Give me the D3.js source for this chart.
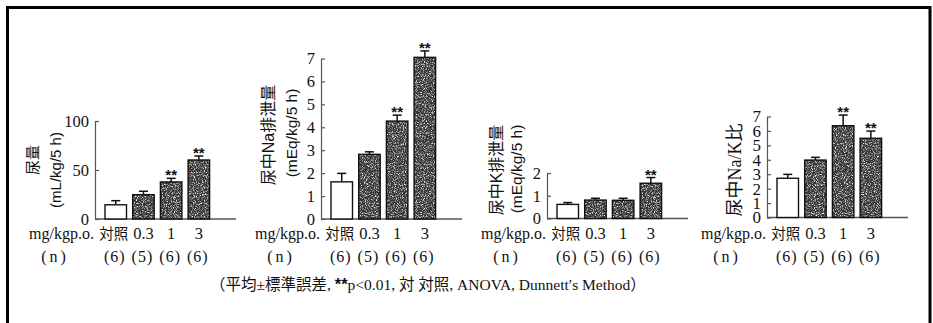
<!DOCTYPE html>
<html><head><meta charset="utf-8">
<script src="https://cdn.jsdelivr.net/npm/d3@7"></script>
<style>
html,body{margin:0;padding:0;background:#fff;}
svg{display:block;}
text{fill:#111;}
</style></head>
<body>
<svg id="chart" width="933" height="323"></svg>
<script>
// ---- data ----
const categories = ["対照", "0.3", "1", "3"];
const nLabels = ["(6)", "(5)", "(6)", "(6)"];
const doseUnit = "mg/kgp.o.";
const nTitle = "(n)";

const urineVolume   = [14.5, 24.8, 37.8, 60.2];
const urineVolumeSE = [4.2, 3.5, 3.7, 4.1];
const naExcretion   = [1.62, 2.82, 4.27, 7.05];
const naExcretionSE = [0.37, 0.11, 0.26, 0.28];
const kExcretion    = [0.62, 0.81, 0.80, 1.55];
const kExcretionSE  = [0.08, 0.08, 0.09, 0.25];
const naKRatio      = [2.72, 3.98, 6.36, 5.49];
const naKRatioSE    = [0.27, 0.19, 0.74, 0.50];

const sigUrine = [false, false, true, true];
const sigNa    = [false, false, true, true];
const sigK     = [false, false, false, true];
const sigNaK   = [false, false, true, true];

const ticksUrine = [0, 50, 100];
const ticksNa    = [0, 1, 2, 3, 4, 5, 6, 7];
const ticksK     = [0, 1, 2];
const ticksNaK   = [0, 1, 2, 3, 4, 5, 6, 7];

const footnote = ["（平均±標準誤差, ", "**", "p<0.01, 対 対照, ANOVA, Dunnett′s  Method）"];

// ---- layout ----
const panels = [
  {vals: urineVolume, se: urineVolumeSE, sig: sigUrine, ticks: ticksUrine, max: 100,
   x0: 95, yTop: 121, yBot: 219, tickFont: 16.5,
   labels: [{t: "尿量", x: 33, y: 160, size: 15}, {t: "(mL/kg/5 h)", x: 55, y: 170, size: 15, sans: true}]},
  {vals: naExcretion, se: naExcretionSE, sig: sigNa, ticks: ticksNa, max: 7,
   x0: 321, yTop: 58.5, yBot: 219, tickFont: 16.5,
   labels: [{t: "尿中Na排泄量", x: 268, y: 135, size: 16, sans: true}, {t: "(mEq/kg/5 h)", x: 291, y: 133, size: 15.5, sans: true}]},
  {vals: kExcretion, se: kExcretionSE, sig: sigK, ticks: ticksK, max: 2,
   x0: 547, yTop: 173, yBot: 218.5, tickFont: 16.5,
   labels: [{t: "尿中K排泄量", x: 496, y: 170, size: 16, sans: true}, {t: "(mEq/kg/5 h)", x: 516, y: 169, size: 15.5, sans: true}]},
  {vals: naKRatio, se: naKRatioSE, sig: sigNaK, ticks: ticksNaK, max: 7,
   x0: 767, yTop: 116.5, yBot: 217.5, tickFont: 17,
   labels: [{t: "尿中Na/K比", x: 735, y: 170, size: 18}]}
];

const svg = d3.select("#chart");
const SERIF = "'Liberation Serif','Times New Roman','Noto Sans CJK JP',serif";
const SANS = "'Liberation Sans',Arial,'Noto Sans CJK JP',sans-serif";

// texture
const defs = svg.append("defs");
const filt = defs.append("filter").attr("id", "grain").attr("x", 0).attr("y", 0).attr("width", "100%").attr("height", "100%");
filt.append("feTurbulence").attr("type", "fractalNoise").attr("baseFrequency", 0.9).attr("numOctaves", 2).attr("seed", 7).attr("result", "n");
filt.append("feColorMatrix").attr("in", "n").attr("type", "matrix")
  .attr("values", "0 0 0 0 1  0 0 0 0 1  0 0 0 0 1  3.0 0 0 0 -1.4");
const pat = defs.append("pattern").attr("id", "speck").attr("patternUnits", "userSpaceOnUse")
  .attr("width", 120).attr("height", 120);
pat.append("rect").attr("width", 120).attr("height", 120).attr("fill", "#363636");
pat.append("rect").attr("width", 120).attr("height", 120).attr("filter", "url(#grain)");

// frame
svg.append("path").attr("d", "M7.5,330 V7.5 H930 V330")
  .attr("fill", "none").attr("stroke", "#000").attr("stroke-width", 3);

panels.forEach(p => {
  const g = svg.append("g");
  const y = d3.scaleLinear().domain([0, p.max]).range([p.yBot, p.yTop]);
  const step = 27.7, pi = 0.224;
  const x = d3.scaleBand().domain(categories)
    .range([p.x0 + 10 - step * pi / 2, p.x0 + 10 - step * pi / 2 + 4 * step])
    .paddingInner(pi).paddingOuter(pi / 2);

  // baseline
  g.append("line").attr("x1", p.x0).attr("x2", p.x0 + 141).attr("y1", y(0)).attr("y2", y(0))
    .attr("stroke", "#555").attr("stroke-width", 1.3);

  // y axis
  const ax = g.append("g").attr("transform", `translate(${p.x0},0)`)
    .call(d3.axisLeft(y).tickValues(p.ticks).tickSizeInner(-4).tickSizeOuter(0).tickPadding(6).tickFormat(d3.format("d")));
  ax.select(".domain").attr("stroke", "#555").attr("stroke-width", 1.2);
  ax.selectAll(".tick line").attr("stroke", "#555").attr("stroke-width", 1.2);
  ax.selectAll(".tick text").attr("font-family", SERIF).attr("font-size", p.tickFont).attr("fill", "#111");

  // error bars
  p.vals.forEach((v, i) => {
    const cx = x(categories[i]) + x.bandwidth() / 2;
    const yt = y(v + p.se[i]);
    g.append("line").attr("x1", cx).attr("x2", cx).attr("y1", y(v)).attr("y2", yt).attr("stroke", "#111").attr("stroke-width", 1.5);
    g.append("line").attr("x1", cx - 4.5).attr("x2", cx + 4.5).attr("y1", yt).attr("y2", yt).attr("stroke", "#111").attr("stroke-width", 1.5);
    if (p.sig[i]) {
      g.append("text").attr("x", cx).attr("y", yt - 6 + 8).attr("text-anchor", "middle")
        .attr("font-family", SANS).attr("font-size", 15).attr("font-weight", "bold").text("**");
    }
  });

  // bars
  g.selectAll("rect.bar").data(p.vals).enter().append("rect").attr("class", "bar")
    .attr("x", (d, i) => x(categories[i]))
    .attr("width", x.bandwidth())
    .attr("y", d => y(d))
    .attr("height", d => y(0) - y(d))
    .attr("fill", (d, i) => i === 0 ? "#fff" : "url(#speck)")
    .attr("stroke", "#111").attr("stroke-width", 1.4);

  // y labels
  p.labels.forEach(l => {
    g.append("text").attr("transform", `translate(${l.x},${l.y}) rotate(-90)`)
      .attr("text-anchor", "middle").attr("dominant-baseline", "central")
      .attr("font-family", l.sans ? SANS : SERIF).attr("font-size", l.size).text(l.t);
  });

  // x rows
  g.append("text").attr("x", p.x0 - 1).attr("y", 239).attr("text-anchor", "end")
    .attr("font-family", SERIF).attr("font-size", 16).text(doseUnit);
  g.append("text").attr("x", p.x0 - 40).attr("y", 262).attr("text-anchor", "middle")
    .attr("font-family", SERIF).attr("font-size", 16).attr("letter-spacing", 3).text(nTitle);
  categories.forEach((c, i) => {
    const cx = x(c) + x.bandwidth() / 2;
    g.append("text").attr("x", cx - (i === 0 ? 2 : 0)).attr("y", 239).attr("text-anchor", "middle")
      .attr("font-family", SERIF).attr("font-size", i === 0 ? 14.5 : 16.5).text(c);
    g.append("text").attr("x", cx - 1).attr("y", 262).attr("text-anchor", "middle")
      .attr("font-family", SERIF).attr("font-size", 16).attr("letter-spacing", 1).text(nLabels[i]);
  });
});

// footnote
const fn = svg.append("text").attr("x", 210).attr("y", 290)
  .attr("font-family", SERIF).attr("font-size", 15.5);
fn.append("tspan").text(footnote[0]);
fn.append("tspan").attr("font-family", SANS).attr("font-weight", "bold").attr("font-size", 16.5).text(footnote[1]);
fn.append("tspan").text(footnote[2]);
</script>
</body></html>
